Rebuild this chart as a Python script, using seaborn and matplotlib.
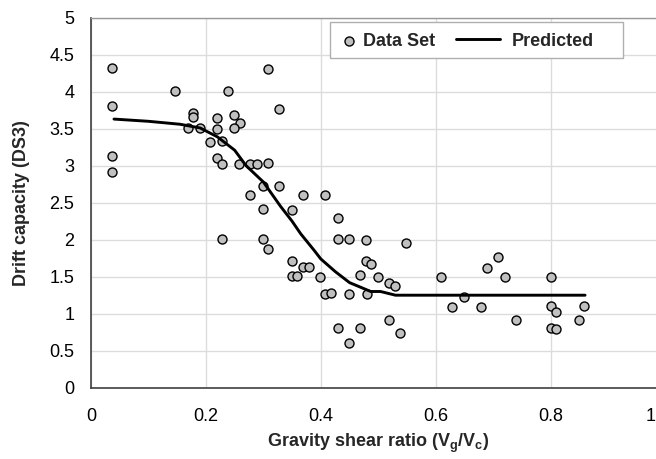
import matplotlib
matplotlib.use("Agg")
import matplotlib.pyplot as plt
import matplotlib.transforms as mtransforms
from matplotlib.legend_handler import HandlerLine2D
from matplotlib.patches import Rectangle
import seaborn as sns
import pandas as pd

# ---- data ----
data_x = [0.036, 0.036, 0.036, 0.036, 0.147, 0.178, 0.178, 0.169, 0.189, 0.219,
          0.219, 0.208, 0.228, 0.219, 0.228, 0.239, 0.249, 0.259, 0.249, 0.258,
          0.277, 0.289, 0.308, 0.308, 0.327, 0.277, 0.299, 0.299, 0.327, 0.228,
          0.299, 0.308, 0.369, 0.408, 0.349, 0.430, 0.430, 0.449, 0.479, 0.548,
          0.349, 0.349, 0.359, 0.369, 0.380, 0.399, 0.408, 0.418, 0.479, 0.488,
          0.469, 0.499, 0.518, 0.530, 0.449, 0.480, 0.430, 0.469, 0.449, 0.518,
          0.537, 0.610, 0.629, 0.649, 0.679, 0.690, 0.709, 0.721, 0.740, 0.800,
          0.800, 0.810, 0.800, 0.810, 0.850, 0.859]
data_y = [4.32, 3.81, 3.13, 2.91, 4.01, 3.71, 3.66, 3.51, 3.51, 3.64,
          3.50, 3.32, 3.34, 3.11, 3.02, 4.01, 3.69, 3.58, 3.51, 3.02,
          3.02, 3.02, 3.04, 4.31, 3.77, 2.61, 2.72, 2.42, 2.72, 2.01,
          2.01, 1.87, 2.61, 2.61, 2.40, 2.29, 2.01, 2.01, 1.99, 1.95,
          1.71, 1.51, 1.51, 1.63, 1.63, 1.50, 1.26, 1.28, 1.71, 1.67,
          1.52, 1.50, 1.41, 1.37, 1.26, 1.26, 0.81, 0.81, 0.60, 0.92,
          0.74, 1.50, 1.09, 1.22, 1.09, 1.62, 1.76, 1.50, 0.92, 1.50,
          1.11, 1.02, 0.81, 0.79, 0.92, 1.11]

pred_x = [0.04, 0.10, 0.155, 0.19, 0.22, 0.25, 0.27, 0.30, 0.33, 0.35,
          0.365, 0.388, 0.40, 0.425, 0.45, 0.487, 0.504, 0.53, 0.86]
pred_y = [3.63, 3.60, 3.56, 3.51, 3.39, 3.21, 3.00, 2.78, 2.45, 2.25,
          2.08, 1.86, 1.74, 1.57, 1.42, 1.30, 1.30, 1.25, 1.25]

x_ticks = [0, 0.2, 0.4, 0.6, 0.8, 1]
x_tick_labels = ["0", "0.2", "0.4", "0.6", "0.8", "1"]
y_ticks = [0, 0.5, 1, 1.5, 2, 2.5, 3, 3.5, 4, 4.5, 5]
y_tick_labels = ["0", "0.5", "1", "1.5", "2", "2.5", "3", "3.5", "4", "4.5", "5"]

df_data = pd.DataFrame({"x": data_x, "y": data_y})
df_pred = pd.DataFrame({"x": pred_x, "y": pred_y})

sns.set_style("white")
plt.rcParams["font.family"] = ["Liberation Sans", "DejaVu Sans"]
plt.rcParams["mathtext.fontset"] = "custom"
plt.rcParams["mathtext.rm"] = "Liberation Sans"
plt.rcParams["mathtext.bf"] = "Liberation Sans:bold"
plt.rcParams["mathtext.it"] = "Liberation Sans:italic"

FS = 13
W, H = 656, 459
fig = plt.figure(figsize=(W / 100, H / 100), dpi=100)
left, right, top, bottom = 91, 665.5, 17.7, 387.7
ax = fig.add_axes([left / W, 1 - bottom / H, (right - left) / W, (bottom - top) / H])
axw = right - left
axh = bottom - top

sns.scatterplot(data=df_data, x="x", y="y", ax=ax, s=42, color="#c0c0c0",
                edgecolor="black", linewidth=1.0, label="Data Set", zorder=3)
sns.lineplot(data=df_pred, x="x", y="y", ax=ax, color="black", linewidth=2.1,
             label="Predicted", sort=False, estimator=None, zorder=4)

ax.set_xlim(0, 1)
ax.set_ylim(0, 5)
ax.set_xticks(x_ticks)
ax.set_xticklabels(x_tick_labels)
ax.set_yticks(y_ticks)
ax.set_yticklabels(y_tick_labels)
ax.grid(True, color="#dcdcdc", linewidth=1.0)
ax.set_axisbelow(True)

for s in ["left", "bottom"]:
    ax.spines[s].set_color("#404040")
    ax.spines[s].set_linewidth(1.2)
ax.spines["top"].set_color("#999999")
ax.spines["top"].set_linewidth(1.0)
ax.spines["right"].set_visible(False)

ax.tick_params(axis="both", which="major", direction="out", width=1,
               color="#404040", labelsize=FS, labelcolor="black")
ax.tick_params(axis="x", length=3.6, pad=11)
ax.tick_params(axis="y", length=5.5, pad=6.5)
ax.tick_params(top=False, right=False)

# shift last x tick label ("1") left so it stays visible like in the reference
lbl = ax.get_xticklabels()[-1]
lbl.set_transform(lbl.get_transform() + mtransforms.ScaledTranslation(-15 / 100, 0, fig.dpi_scale_trans))

ax.set_xlabel(r"Gravity shear ratio (V$_\mathbf{g}$/V$_\mathbf{c}$)", fontsize=FS,
              fontweight="bold")
ax.xaxis.set_label_coords(0.5, -(432 - bottom) / axh)
ax.set_ylabel("Drift capacity (DS3)", fontsize=FS, fontweight="bold")
ax.yaxis.set_label_coords((30 - left) / axw, 0.5)


class LongLineHandler(HandlerLine2D):
    def get_xdata(self, legend, xdescent, ydescent, width, height, fontsize):
        xd = [-xdescent + width - 36.0, -xdescent + width - 4.3]
        return xd, xd


# legend frame drawn as a plain box
frame = Rectangle(((330 - left) / axw, (bottom - 58.3) / axh),
                  (623 - 330) / axw, (58.3 - 21.7) / axh,
                  transform=ax.transAxes, facecolor="white", edgecolor="#b0b0b0",
                  linewidth=1.0, zorder=6)
ax.add_patch(frame)

handles, labels = ax.get_legend_handles_labels()
leg = ax.legend(handles, labels, loc="center left",
                bbox_to_anchor=((340 - left) / axw, (bottom - 41) / axh),
                ncol=2, frameon=False, prop={"weight": "bold", "size": FS},
                handlelength=1.0, columnspacing=2.9, handletextpad=0.3,
                borderpad=0, borderaxespad=0,
                handler_map={handles[1]: LongLineHandler()})
leg.set_zorder(7)

fig.savefig("out.png", dpi=100)
